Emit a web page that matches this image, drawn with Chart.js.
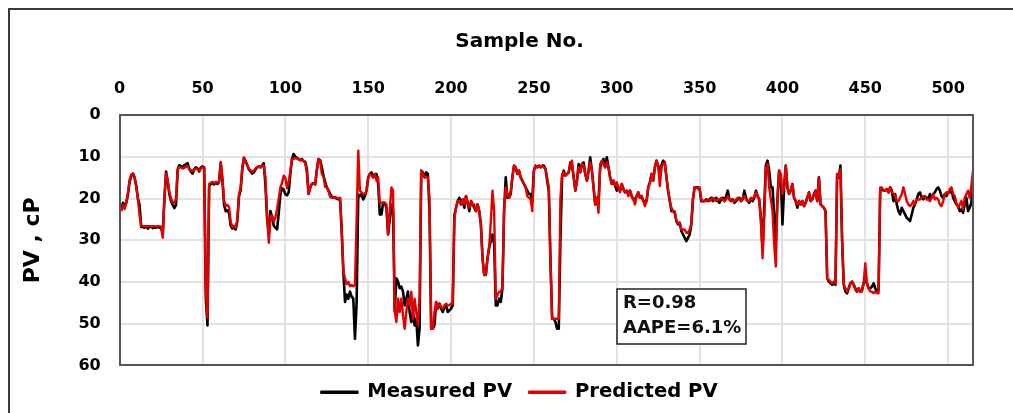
<!DOCTYPE html>
<html><head><meta charset="utf-8">
<script src="https://cdn.jsdelivr.net/npm/chart.js@4.4.1/dist/chart.umd.min.js"></script>
<style>
html,body{margin:0;padding:0;background:#fff;overflow:hidden;width:1013px;height:413px;}
#frame{position:absolute;left:8px;top:8px;width:1100px;height:500px;border-left:2px solid #3a3a3a;border-top:2px solid #3a3a3a;box-sizing:border-box;}
#wrap{position:absolute;left:0;top:0;width:1040px;height:412px;}
</style></head><body>
<div id="frame"></div>
<div id="wrap"><canvas id="c" width="1040" height="412"></canvas></div>
<script>
const seriesNames = ['Measured PV', 'Predicted PV'];
const xTitle = 'Sample No.';
const yTitle = 'PV , cP';
const statsText = ['R=0.98', 'AAPE=6.1%'];
const statsAt = { x: 300, y: 41.6 };
const xTickValues = [0, 50, 100, 150, 200, 250, 300, 350, 400, 450, 500];
const yTickValues = [0, 10, 20, 30, 40, 50, 60];

const measured = [
22.5,21,22,21,19,16,14.5,14,15,17,20,21.5,26.8,
26.8,27,26.6,27.2,26.8,26.7,27.1,26.9,27,26.7,27,26.9,28.5,20,13.5,
16,19,20.5,21.5,22.3,21.5,
13,12,12.2,12.5,12,11.8,11.5,12.8,13.5,14,13,12.5,12.8,13.5,12.5,12.3,12.5,
44,50.4,17,16.5,16.3,16.6,16.2,16.5,16,
11.5,15.5,21.5,23,22.8,23.5,26.5,27.2,26.8,27.4,25.5,19.5,18,13,10.2,
11,12,13,13.5,14,13.7,13,12.5,12.3,12.5,12,11.5,
17,25,28.5,23,24.5,26.5,27,27.4,23.5,19,17.5,17.8,19,19.2,18.5,14,10.5,9.3,
10,10.2,10.5,10.8,10.5,11,11.2,13,
18.9,17.3,16.5,16.3,16.6,13,10.5,10.8,12.5,14.5,16,17.3,18,18.9,19.5,19.8,
19.8,20,20.2,20,28,37.5,44.8,43,44,42.3,43.5,44,53.6,45,19,
19.4,18.9,20.2,19.4,18.1,14.9,14.1,13.7,14.9,14.1,14.1,16.5,23.8,23.8,21,21,22.2,28.6,25,21.4,23,
47,39.1,39.9,41.5,41.1,42.3,45.6,44,42.3,47.2,49.6,47.2,50.4,48.8,55.2,51.2,13.3,13.7,14.9,13.7,14.1,23,51.2,51.2,50.4,44.8,46.4,45.2,
46.4,47.2,46,45.6,47.2,46.8,46.4,45.6,
24,22.2,20.6,19.8,21.4,20.2,22.2,19.4,21,23,20.6,21.4,22.2,23,21.4,23,26.2,34.3,38.3,38.3,34.3,31.7,30.2,28.6,30.9,45.6,45.6,44,44.8,41.5,23,14.9,19.8,19.8,18.9,14.9,12.1,12.5,14.1,13.3,14.9,15.7,16.5,17.3,18.1,18.9,18.9,20.6,13.3,12.1,12.5,12.1,12.5,12.1,12.1,12.9,15.7,18.1,35.1,48.8,
48.8,49.6,51.2,51.2,
30,14.9,13.3,14.5,14.1,13.7,11.3,12.1,14.9,18.1,15.7,11.7,13.7,11.7,11.3,14.1,15.7,13.3,10.1,13.3,17.3,21.4,19.8,20.6,12.5,11.3,10.5,12.5,10.1,12.5,14.9,16.5,15.7,16.9,18.1,17.3,18.1,16.5,17.7,18.5,18.1,18.9,18.1,19.4,20.2,20.2,19.4,18.5,19.8,19.4,20.6,20.6,20.6,17.3,16.1,14.1,15.7,12.5,10.9,12.1,
14.5,12,10.9,11.3,14.9,18.1,20.6,23,23,23.4,25.4,26.2,25.8,27.8,28.6,29.4,30.2,29.4,28.6,26.2,20,17.3,17.3,17.3,17.7,20.6,20.6,20.6,20.2,
20.6,20.2,19.8,20.6,20.2,19.8,20.6,21,20.2,19.8,20.6,19.4,18.1,20.2,20.6,20.2,21,20.6,20.2,19.8,20.6,20.2,18.1,19.8,20.6,21,20.2,20.6,19.8,18.1,19.4,20.2,
25,32,22,12,10.9,13.3,
17.3,17.3,24,30,20,13.3,14.9,26.2,17.3,12.1,17.3,18.9,18.1,16.5,19.8,20.6,22.2,20.6,21.4,20.6,21.8,21,19.8,18.5,20.6,20.2,18.9,18.1,20.6,14.9,21.4,21.8,22.2,23,39.1,39.9,40.3,40.7,40.3,40.7,14.1,14.9,12.1,30,40.7,42.3,42.7,41.5,40.3,39.9,40.7,41.5,42.3,41.5,42.3,41.9,40.3,39.5,40.3,41.5,41.5,41.1,40.3,41.5,42.3,41.9,
18.1,17.7,18.1,18.1,17.7,18.5,17.3,18.1,20.6,18.9,21.4,23,23.8,22.2,23,23.8,24.6,25,25.4,23.8,22.2,21.4,20.2,18.9,18.5,19.8,20.2,19.4,19.8,20.2,18.9,19.8,18.9,18.5,17.7,17.3,18.1,19.4,19.8,18.9,19.4,18.5,18.5,17.7,19.8,20.6,21.4,21.8,23,22.6,23.4,21.4,19.8,23,22.2,21,16.5
];

const predicted = [
23,21.5,22.5,21,18.5,15.5,14.2,14,14.8,17,20,24,26.5,
26.6,26.6,26.7,26.6,26.6,26.7,26.6,26.6,26.7,26.6,26.6,26.7,29.4,20,14,
15.5,18.5,20,20.8,21,20,
13.2,12.4,12.5,12.8,12.6,12.4,12.2,13,13.2,13.4,13,12.8,13,13.3,12.8,12.5,12.6,
42,48.5,16.5,16.2,16,16.3,16,16.2,15.8,
11.2,15,20.5,21.8,21.5,22,25.5,26.8,26.5,27,25,19,17.3,12.5,10.2,
11.2,12,12.8,13.2,13.5,13.3,12.8,12.5,12.3,12.4,12.2,12,
15,24,30.6,24.5,24,25.5,24.5,22.5,20,17.3,16.2,14.5,15,17.5,16,13.5,10.5,10.5,
10.3,10.4,10.6,10.8,10.7,11,11.5,14,
18.9,17.5,16.5,16.4,16.6,13.5,10.5,11,14,14.8,17.2,17.3,18.1,19.6,19.8,19.8,
19.6,19.8,20,19.8,27,37.5,39.1,40.5,40,41,40.7,41,40.7,25,8.5,
18.1,18.5,18.9,18.9,18.1,14.9,14.1,14.5,14.9,14.1,15.7,14.9,21,21,21,21,21.4,28.6,23,17.3,18.1,
47,49.6,44,47.2,44,48,51.2,47.2,44,45.6,42.3,48.8,44,47.2,50.4,44,13.3,14.1,14.9,14.9,14.9,20,51.2,51.2,47.2,44.8,46.4,45.2,
46,46.4,45.6,45.2,45.6,45.6,45.2,45.2,
25,22.2,20.6,20.6,21.4,20.2,21.4,19.4,21,22.2,20.6,21.4,21.4,23,21.4,23,26.2,34.3,38.3,38.3,34.3,31.7,25.4,18.1,23,44,43.1,42.3,42.3,41.5,23,17.3,18.9,19.8,18.1,14.9,12.1,12.5,14.1,13.3,14.9,15.7,16.5,17.3,19.4,19.8,20.2,23,13.3,12.1,12.5,12.1,12.5,12.1,12.5,12.9,14.9,17.3,35.1,48.8,
48.8,48.8,48.8,48.8,
20,14.1,13.7,14.5,14.1,13.7,11.7,10.9,14.9,18.1,15.7,12.5,13.7,11.7,12.1,14.1,15.7,13.3,11.3,13.3,17.3,21.4,19.8,23.4,11.7,10.9,11.7,12.5,11.3,12.5,14.9,16.5,15.7,16.9,16.1,17.3,18.5,16.5,17.7,18.5,18.1,19.4,18.1,19.4,20.2,21.4,19.4,18.5,19.8,19.4,20.6,21.8,20.6,17.3,16.1,14.1,15.7,12.5,10.9,12.1,
17,12.5,11.7,11.3,14.9,18.1,20.6,22.2,23,23,25.4,25.8,25.8,27.4,27.4,27.4,28.2,28.2,27.4,26.2,20,17.3,17.3,17.7,17.3,20.2,20.6,20.6,20.6,
20.2,20.6,20.2,19.8,20.2,20.6,20.2,20.2,19.8,20.2,20.6,20.2,19.4,20.2,20.2,20.6,20.6,20.2,19.8,20.2,20.6,19.8,19.4,20.2,20.6,20.6,19.8,20.2,19.4,18.5,19.4,20.2,
25,34.3,25,13,11.7,17.3,
20.2,23,30.9,36.3,20,13.3,14.1,18.9,17.3,12.1,17.3,18.9,18.1,16.5,19.8,20.6,21.4,20.6,21.4,20.6,21.8,21,19.8,18.5,20.6,20.2,18.9,18.1,20.6,14.9,21.4,21.8,22.2,23,39.1,39.5,39.9,40.3,39.9,40.3,14.1,14.9,13,30,40.7,41.5,42.3,41.5,40.3,39.9,40.7,41.9,42.3,41.5,42.3,42.3,40.3,35.5,40.3,41.5,42.3,42.3,42.7,42.3,42.7,42.7,
17.3,17.3,18.1,18.1,17.7,18.5,17.3,18.5,18.9,19.4,20.6,20.6,19.8,18.9,17.3,18.9,20.6,21.4,21.8,21.4,20.6,21.4,20.2,20.2,20.2,19.8,19.4,19.4,20.2,20.2,20.6,19.8,18.9,20.2,19.8,20.2,21.4,21.8,20.6,18.9,18.5,18.9,17.7,17.3,18.9,19.4,21,22.2,21.4,20.6,22.6,19.8,18.9,18.1,19.8,17,13.3
];

const sampleNo = measured.map((_, i) => i + 1);
const xRange = [0, 515];
const yRange = [0, 60];

const FONT = "'DejaVu Sans', Verdana, sans-serif";

// light grid drawn from the scales' own tick positions (under the data)
const gridPlugin = {
  id: 'gridPlugin',
  beforeDatasetsDraw(chart) {
    const ctx = chart.ctx;
    const xs = chart.scales.x, ys = chart.scales.y;
    const l = Math.round(xs.left), r = Math.round(xs.right);
    const t = Math.round(ys.top), b = Math.round(ys.bottom);
    ctx.save();
    ctx.fillStyle = '#e2e2e2';
    xTickValues.forEach(v => {
      const px = Math.round(xs.getPixelForValue(v));
      ctx.fillRect(px - 1, t, 2, b - t);
    });
    yTickValues.forEach(v => {
      const py = Math.round(ys.getPixelForValue(v));
      ctx.fillRect(l, py - 1, r - l, 2);
    });
    ctx.restore();
  }
};

// dark frame round the plot area
const plotFrame = {
  id: 'plotFrame',
  afterDraw(chart) {
    const ctx = chart.ctx;
    const xs = chart.scales.x, ys = chart.scales.y;
    const l = Math.round(xs.left), r = Math.round(xs.right);
    const t = Math.round(ys.top), b = Math.round(ys.bottom);
    ctx.save();
    ctx.fillStyle = '#555555';
    ctx.fillRect(l - 1, t - 1, r - l + 2, 2);
    ctx.fillRect(l - 1, b - 1, r - l + 2, 2);
    ctx.fillRect(l - 1, t - 1, 2, b - t + 2);
    ctx.fillRect(r - 1, t - 1, 2, b - t + 2);
    ctx.restore();
  }
};

const statsBox = {
  id: 'statsBox',
  afterDatasetsDraw(chart) {
    const { ctx, scales: { x, y } } = chart;
    const left = Math.round(x.getPixelForValue(statsAt.x));
    const top = Math.round(y.getPixelForValue(statsAt.y));
    const w = 129, h = 55;
    ctx.save();
    ctx.fillStyle = '#fff';
    ctx.fillRect(left, top, w, h);
    ctx.strokeStyle = '#222';
    ctx.lineWidth = 1.5;
    ctx.strokeRect(left, top, w, h);
    ctx.fillStyle = '#111';
    ctx.font = 'bold 18px ' + FONT;
    ctx.textBaseline = 'middle';
    ctx.textAlign = 'left';
    statsText.forEach((t, i) => ctx.fillText(t, left + 6, top + 14 + i * 25));
    ctx.restore();
  }
};

new Chart(document.getElementById('c'), {
  type: 'line',
  data: {
    datasets: [
      {
        label: seriesNames[0],
        data: sampleNo.map((s, i) => ({ x: s, y: measured[i] })),
        borderColor: '#000000', backgroundColor: '#000000',
        borderWidth: 2.6, pointRadius: 0, tension: 0, order: 1,
        borderJoinStyle: 'round'
      },
      {
        label: seriesNames[1],
        data: sampleNo.map((s, i) => ({ x: s, y: predicted[i] })),
        borderColor: '#e50000', backgroundColor: '#e50000',
        borderWidth: 2.4, pointRadius: 0, tension: 0, order: 0,
        borderJoinStyle: 'round'
      }
    ]
  },
  options: {
    responsive: false,
    animation: false,
    layout: { padding: { top: 10, left: 16, right: 17, bottom: 0 } },
    scales: {
      x: {
        type: 'linear', position: 'top', min: xRange[0], max: xRange[1],
        ticks: { stepSize: 50, includeBounds: false, padding: 17, color: '#000', font: { family: FONT, size: 16, weight: 'bold' } },
        grid: { display: false, drawTicks: false },
        border: { display: false }
      },
      y: {
        reverse: true, min: yRange[0], max: yRange[1],
        ticks: { stepSize: 10, padding: 19, color: '#000', font: { family: FONT, size: 16, weight: 'bold' } },
        grid: { display: false, drawTicks: false },
        border: { display: false },
        title: { display: true, text: yTitle, color: '#000', font: { family: FONT, size: 22, weight: 'bold' }, padding: { top: 4, bottom: 13 } }
      },
      yRight: {
        position: 'right', display: true,
        ticks: { display: false },
        grid: { display: false, drawTicks: false },
        border: { display: false },
        afterFit(scale) { scale.width = 50; }
      }
    },
    plugins: {
      title: { display: true, text: xTitle, color: '#000', font: { family: FONT, size: 20, weight: 'bold' }, padding: { top: 20, bottom: 8 } },
      legend: {
        position: 'bottom',
        labels: {
          boxWidth: 36, boxHeight: 1, padding: 17, color: '#000',
          font: { family: FONT, size: 19.6, weight: 'bold' },
          sort: (a, b) => a.datasetIndex - b.datasetIndex
        }
      },
      tooltip: { enabled: false }
    }
  },
  plugins: [gridPlugin, statsBox, plotFrame]
});
</script>
</body></html>
